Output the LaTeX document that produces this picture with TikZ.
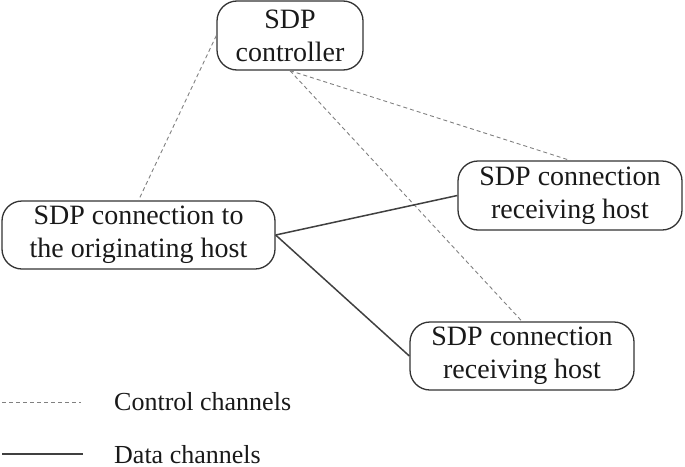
\documentclass[tikz,border=0pt]{standalone}
\usepackage{fontspec}
\setmainfont{Liberation Serif}
\begin{document}
\begin{tikzpicture}[x=1pt,y=-1pt,
  box/.style={draw=black!80, line width=1.3pt, rounded corners=20pt, align=center,
    inner sep=0pt, font=\fontsize{28}{33}\selectfont, text=black!90},
  ctl/.style={draw=black!50, line width=0.9pt, dash pattern=on 4pt off 3pt},
  dat/.style={draw=black!75, line width=1.5pt},
  lbl/.style={anchor=west, inner sep=0pt, font=\fontsize{26}{30}\selectfont, text=black!90}]
\useasboundingbox (0,0) rectangle (685,466);
\node[box, minimum width=146pt, minimum height=69pt] (ctrl) at (290,35.5) {SDP\\controller};
\node[box, minimum width=273pt, minimum height=68pt] (orig) at (138.5,235) {SDP connection to\\the originating host};
\node[box, minimum width=224pt, minimum height=69pt] (recvA) at (570,195.5) {SDP connection\\receiving host};
\node[box, minimum width=224pt, minimum height=68pt] (recvB) at (522,356) {SDP connection\\receiving host};
\draw[ctl] (ctrl.west) -- (orig.north);
\draw[ctl] (ctrl.south) -- (recvA.north);
\draw[ctl] (ctrl.south) -- (recvB.north);
\draw[dat] (orig.east) -- (recvA.west);
\draw[dat] (orig.east) -- (recvB.west);
\coordinate (c1) at (2,402);
\coordinate (c2) at (81,402);
\coordinate (d1) at (2,454);
\coordinate (d2) at (83,454);
\draw[ctl] (c1) -- (c2);
\draw[dat] (d1) -- (d2);
\node[lbl] (lc) at (114,402) {Control channels};
\node[lbl] (ld) at (114,455) {Data channels};
\end{tikzpicture}
\end{document}
